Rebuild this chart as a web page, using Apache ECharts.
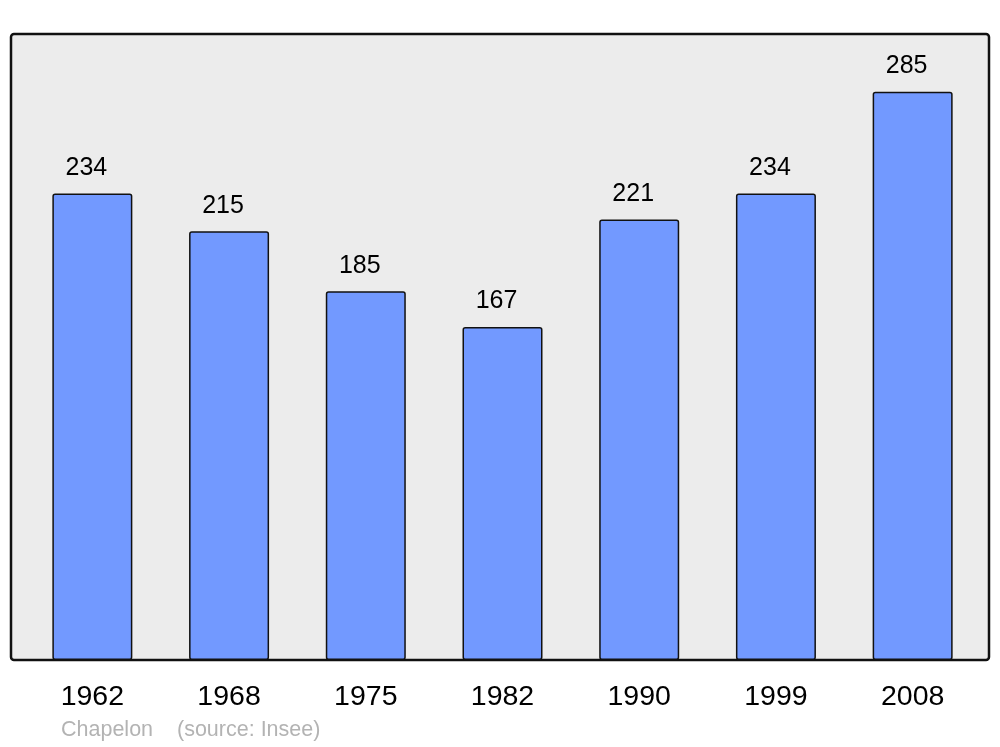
<!DOCTYPE html>
<html>
<head>
<meta charset="utf-8">
<script src="https://cdn.jsdelivr.net/npm/echarts@6/dist/echarts.min.js"></script>
<style>
  html, body { margin: 0; padding: 0; background: #fff; }
  #chart { width: 1000px; height: 747px; }
</style>
</head>
<body>
<div id="chart"></div>
<script>
// population par recensement
const years = ['1962', '1968', '1975', '1982', '1990', '1999', '2008'];
const population = [234, 215, 185, 167, 221, 234, 285];
const yMax = 314;

const chart = echarts.init(document.getElementById('chart'));
chart.setOption({
    animation: false,
    textStyle: { fontFamily: 'Liberation Sans, Arial, sans-serif' },
    grid: { left: 24, right: 19, top: 34, bottom: 87, containLabel: false },
    graphic: [
        {
            type: 'rect',
            z: -10,
            shape: { x: 11, y: 34, width: 978, height: 626, r: 3 },
            style: { fill: '#ececec', stroke: '#111', lineWidth: 2.5 }
        },
        {
            type: 'text',
            left: 61, top: 719,
            style: { text: 'Chapelon', fill: '#b3b3b3', font: '21.5px Liberation Sans, Arial, sans-serif' }
        },
        {
            type: 'text',
            left: 177, top: 719,
            style: { text: '(source: Insee)', fill: '#b3b3b3', font: '21.5px Liberation Sans, Arial, sans-serif' }
        }
    ],
    xAxis: {
        type: 'category',
        data: years,
        axisLine: { show: false },
        axisTick: { show: false },
        axisLabel: { color: '#000', fontSize: 28.5, margin: 23 }
    },
    yAxis: {
        type: 'value',
        min: 0,
        max: yMax,
        show: false,
        splitLine: { show: false }
    },
    series: [{
        type: 'bar',
        data: population,
        barWidth: 80,
        itemStyle: {
            color: '#7299ff',
            borderColor: '#111',
            borderWidth: 1.5,
            borderRadius: 2
        },
        label: {
            show: true,
            position: 'top',
            distance: 13,
            offset: [-6, 0],
            color: '#000',
            fontSize: 25
        }
    }]
});
</script>
</body>
</html>
